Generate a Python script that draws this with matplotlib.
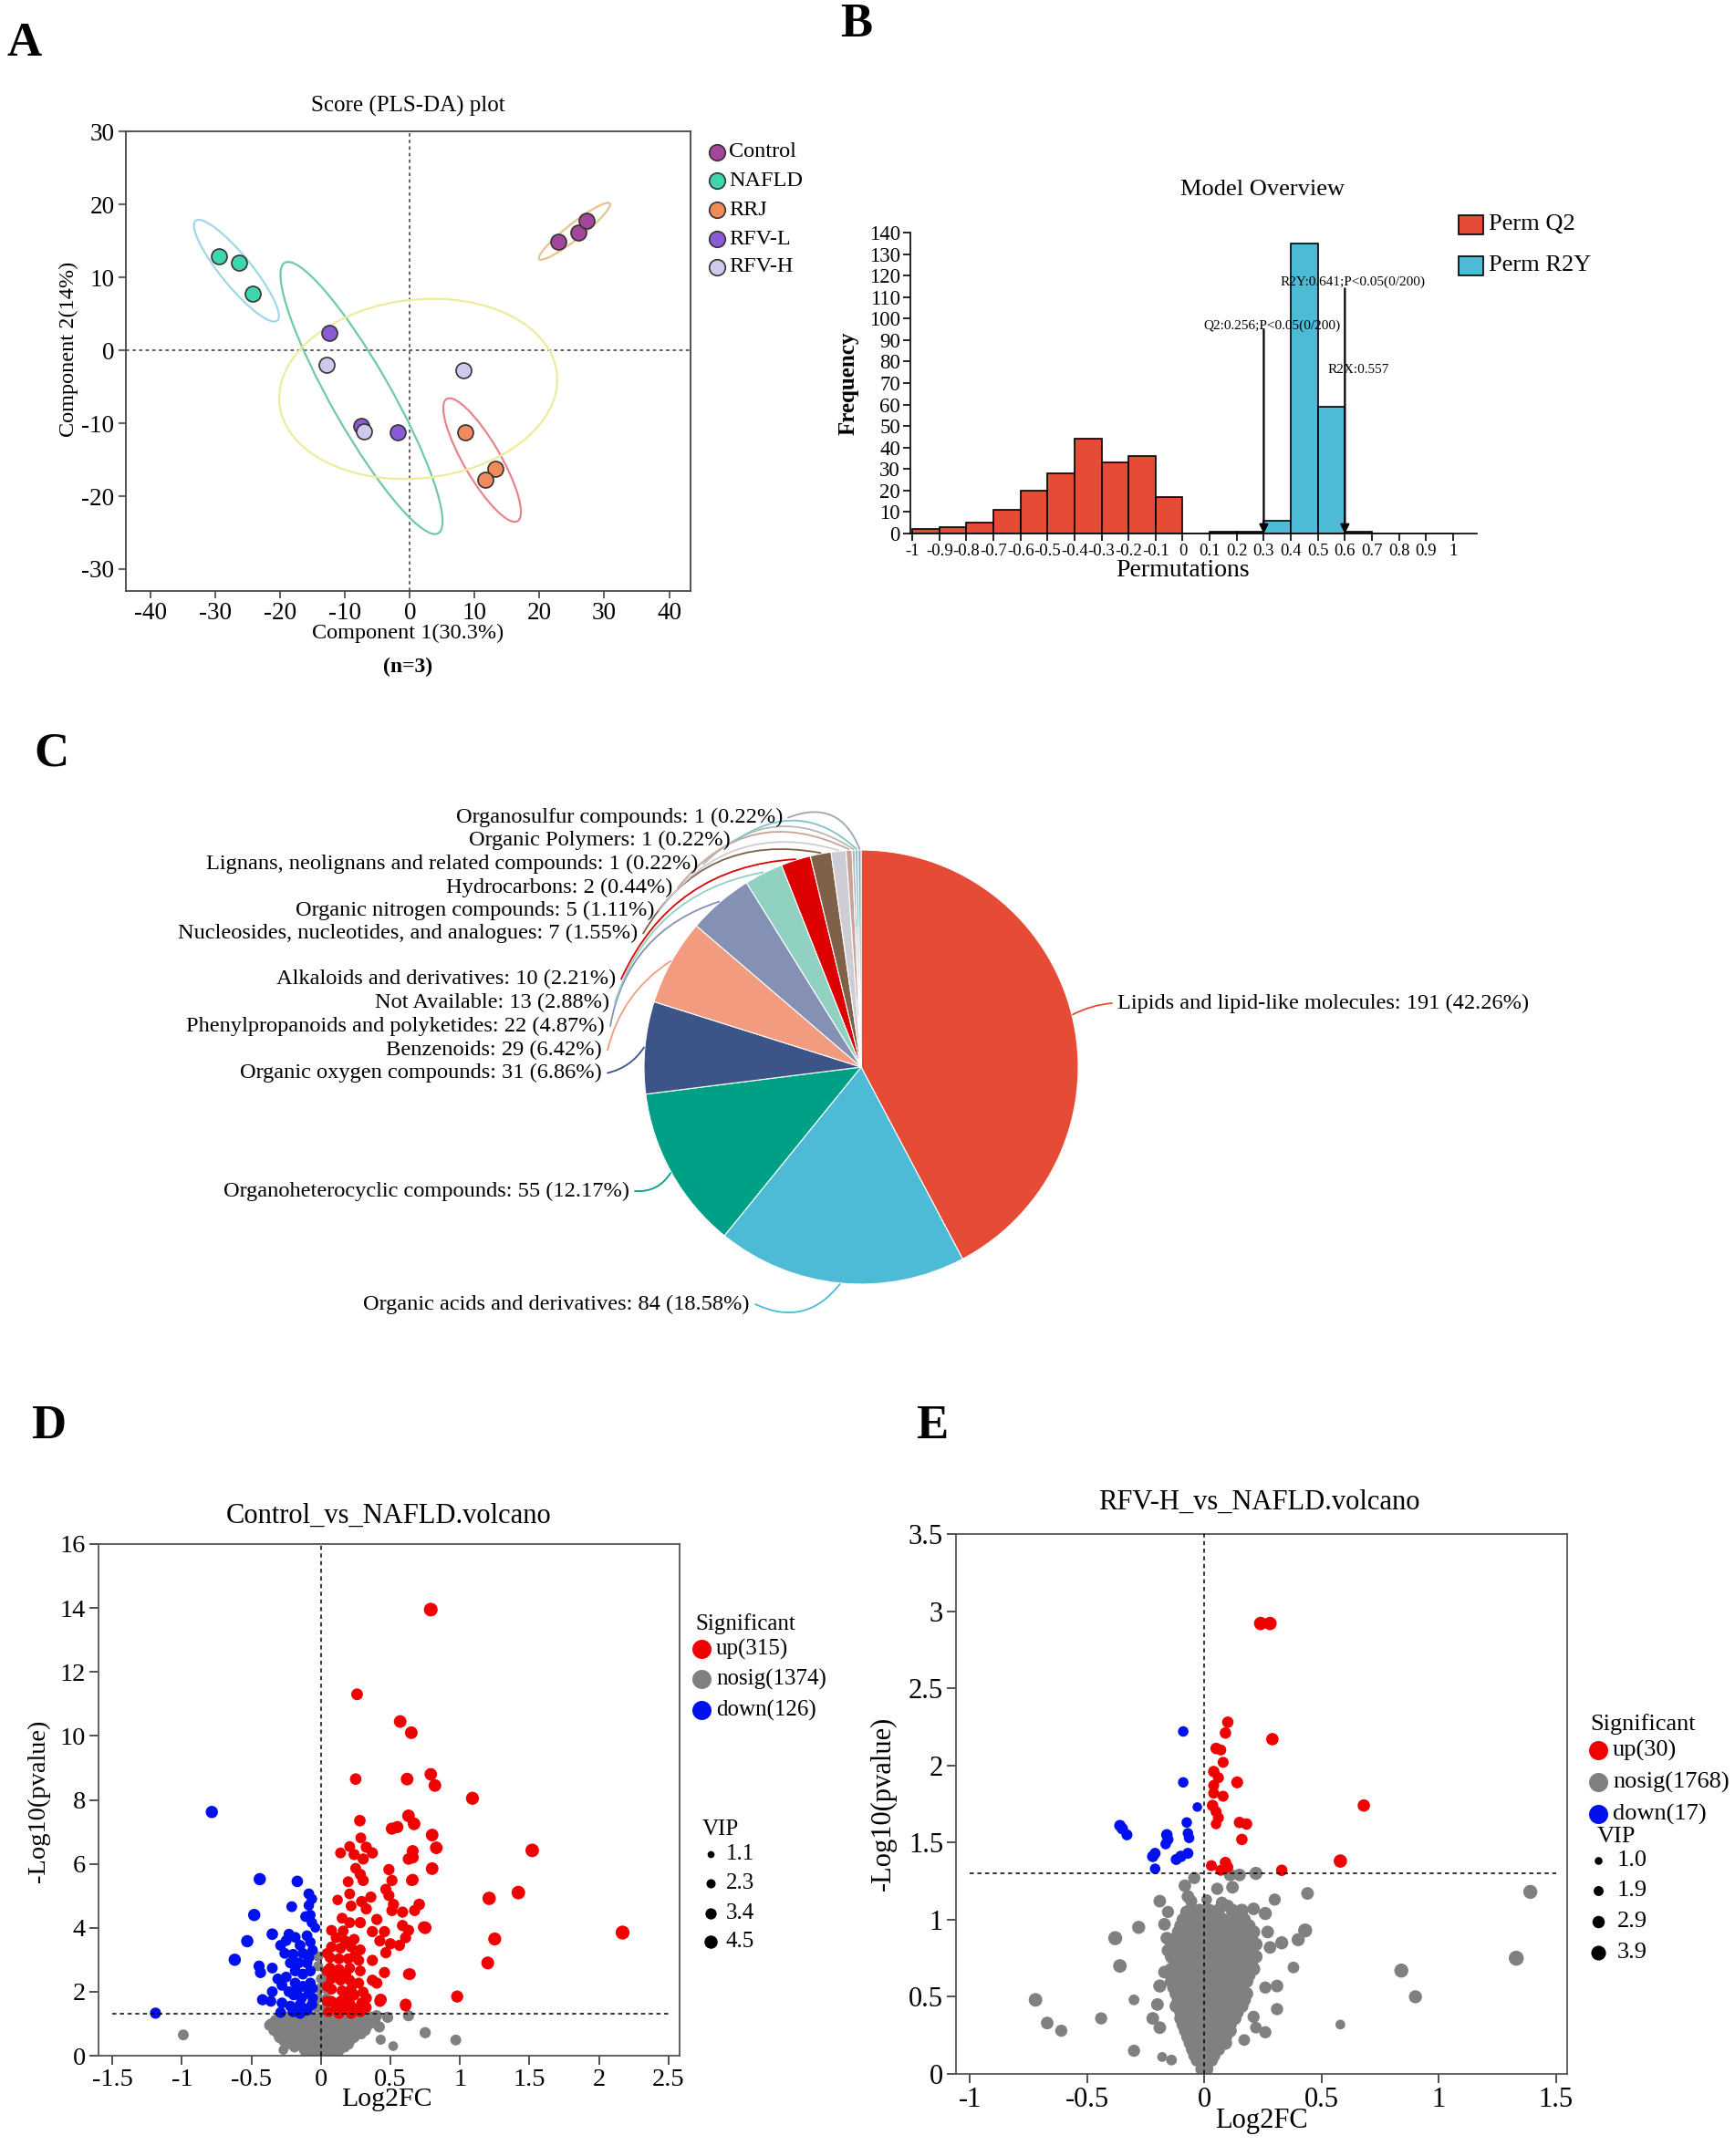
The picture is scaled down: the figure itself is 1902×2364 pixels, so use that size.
import numpy as np
import matplotlib
matplotlib.use('Agg')
import matplotlib.pyplot as plt
from matplotlib.patches import Ellipse, Rectangle

plt.rcParams['font.family'] = ['Liberation Serif', 'DejaVu Serif']
plt.rcParams['axes.unicode_minus'] = False

W, H = 1902, 2364

# ---------------- A: PLS-DA score plot ----------------
groups = ['Control', 'NAFLD', 'RRJ', 'RFV-L', 'RFV-H']
group_colors = ['#a3479b', '#3fd6ad', '#f28b5b', '#8b5bd6', '#cfc9ec']
score_x = [[22.96, 25.96, 27.3], [-29.4, -26.35, -24.3], [8.6, 13.2, 11.7],
           [-12.4, -7.5, -1.8], [-12.9, -7.1, 8.2]]
score_y = [[14.9, 16.1, 17.8], [12.9, 12.0, 7.8], [-11.2, -16.2, -17.7],
           [2.35, -10.4, -11.2], [-2.0, -11.1, -2.7]]
# confidence ellipses (centre, axes, angle)
ell_cx = [25.4, -26.75, 11.15, -7.45, 1.3]
ell_cy = [16.3, 10.9, -15.05, -6.55, -5.3]
ell_w = [13.3, 18.6, 20.0, 44.0, 43.0]
ell_h = [2.2, 4.5, 5.5, 9.0, 24.5]
ell_ang = [34.8, -47, -56.4, -57.2, 5]
ell_colors = ['#e6c48a', '#9fd8e6', '#e8848c', '#6fcaa8', '#eeeb9c']

# ---------------- B: permutation test ----------------
q2_left = [-1.0, -0.9, -0.8, -0.7, -0.6, -0.5, -0.4, -0.3, -0.2, -0.1, 0.0, 0.1, 0.2]
q2_freq = [2, 3, 5, 11, 20, 28, 44, 33, 36, 17, 0, 1, 1]
r2y_left = [0.3, 0.4, 0.5, 0.6, 0.7, 0.8, 0.9]
r2y_freq = [6, 135, 59, 1, 0, 0, 0]
perm_ticks = [-1, -0.9, -0.8, -0.7, -0.6, -0.5, -0.4, -0.3, -0.2, -0.1, 0,
              0.1, 0.2, 0.3, 0.4, 0.5, 0.6, 0.7, 0.8, 0.9, 1]

# ---------------- C: compound classes ----------------
class_names = ['Lipids and lipid-like molecules', 'Organic acids and derivatives',
               'Organoheterocyclic compounds', 'Organic oxygen compounds', 'Benzenoids',
               'Phenylpropanoids and polyketides', 'Not Available', 'Alkaloids and derivatives',
               'Nucleosides, nucleotides, and analogues', 'Organic nitrogen compounds',
               'Hydrocarbons', 'Lignans, neolignans and related compounds',
               'Organic Polymers', 'Organosulfur compounds']
class_counts = [191, 84, 55, 31, 29, 22, 13, 10, 7, 5, 2, 1, 1, 1]
class_colors = ['#E64B35', '#4DBBD5', '#00A087', '#3C5488', '#F39B7F', '#8491B4',
                '#91D1C2', '#DC0000', '#7E6148', '#cdcdd3', '#c9a39a', '#b7b7b7',
                '#7fc4c9', '#9aa6b2']

# ---------------- D: Control vs NAFLD volcano (x, y, vip) ----------------
d_up = [(0.79, 13.95, 4.4), (0.26, 11.3, 3.3), (0.57, 10.45, 3.8), (0.65, 10.1, 3.8),
        (0.25, 8.65, 3.2), (0.62, 8.65, 3.8), (0.79, 8.8, 3.7), (0.82, 8.45, 3.8),
        (1.09, 8.05, 4.0), (0.63, 7.5, 3.8), (0.67, 7.25, 3.8), (0.51, 7.1, 3.5),
        (0.55, 7.15, 3.5), (0.28, 7.35, 3.2), (0.80, 6.9, 3.8), (0.83, 6.5, 3.8),
        (1.52, 6.42, 4.3), (1.42, 5.1, 4.3), (1.21, 4.92, 4.2), (2.17, 3.85, 4.5),
        (1.25, 3.65, 4.0), (1.20, 2.9, 3.9), (0.98, 1.85, 3.5), (0.75, 4.0, 3.8),
        (0.64, 2.55, 3.3), (0.61, 1.6, 3.3), (0.43, 1.75, 3.5), (0.80, 5.85, 3.8),
        (0.66, 6.2, 3.5), (0.66, 5.5, 3.4), (0.66, 6.4, 3.4),
        (0.287, 6.81, 2.8), (0.207, 6.54, 2.8), (0.141, 6.34, 2.8), (0.239, 6.29, 3.0),
        (0.326, 6.52, 3.0), (0.370, 6.34, 3.0), (0.304, 6.15, 3.0), (0.630, 6.15, 3.2),
        (0.489, 5.82, 3.0), (0.25, 5.86, 2.8), (0.283, 5.67, 3.0), (0.304, 5.48, 3.0),
        (0.511, 5.48, 3.0), (0.652, 5.48, 3.0), (0.196, 5.44, 2.8), (0.467, 5.20, 3.0),
        (0.207, 5.06, 2.8), (0.489, 5.01, 3.0), (0.293, 4.82, 3.0), (0.359, 4.96, 3.0),
        (0.120, 4.87, 2.6), (0.522, 4.73, 3.0), (0.707, 4.73, 3.2), (0.674, 4.54, 3.0),
        (0.587, 4.49, 3.0), (0.511, 4.54, 3.0), (0.326, 4.59, 3.0), (0.217, 4.68, 2.8),
        (0.152, 4.30, 2.8), (0.207, 4.16, 2.8), (0.283, 4.16, 3.0), (0.402, 4.26, 3.0),
        (0.587, 4.07, 3.0), (0.739, 4.02, 3.2), (0.076, 3.92, 2.8), (0.370, 3.88, 3.0),
        (0.457, 3.88, 3.0), (0.630, 3.92, 3.0), (0.109, 3.69, 2.8), (0.174, 3.59, 2.8),
        (0.239, 3.64, 2.8), (0.424, 3.59, 3.0), (0.5, 3.50, 3.0), (0.565, 3.45, 3.0),
        (0.609, 3.69, 3.0), (0.076, 3.40, 2.8), (0.141, 3.36, 2.8), (0.217, 3.40, 2.8),
        (0.283, 3.31, 2.8), (0.467, 3.22, 3.0), (0.065, 3.07, 2.8), (0.130, 3.03, 2.8),
        (0.196, 3.03, 2.8), (0.272, 2.98, 2.8), (0.370, 2.98, 3.0), (0.065, 2.74, 2.8),
        (0.130, 2.70, 2.8), (0.207, 2.74, 2.8), (0.283, 2.65, 2.8), (0.457, 2.60, 3.0),
        (0.630, 2.55, 3.0), (0.076, 2.41, 2.8), (0.141, 2.36, 2.8), (0.207, 2.36, 2.8),
        (0.272, 2.27, 2.8), (0.370, 2.36, 3.0), (0.402, 2.27, 3.0), (0.076, 2.08, 2.8),
        (0.152, 2.03, 2.8), (0.217, 2.08, 2.8), (0.304, 1.99, 2.8), (0.326, 1.80, 3.0),
        (0.076, 1.70, 2.8), (0.141, 1.70, 2.8), (0.207, 1.65, 2.8), (0.293, 1.65, 2.8),
        (0.424, 1.70, 3.0), (0.609, 1.56, 3.0), (0.109, 1.51, 2.8), (0.174, 1.47, 2.8),
        (0.25, 1.47, 2.8), (0.326, 1.51, 2.8), (0.043, 3.2, 2.6), (0.043, 2.65, 2.6),
        (0.043, 2.17, 2.6), (0.043, 1.7, 2.6), (0.054, 1.37, 2.6), (0.13, 1.32, 2.8),
        (0.217, 1.32, 2.8), (0.283, 1.37, 2.8), (0.17, 1.9, 2.8), (0.24, 1.9, 2.8),
        (0.10, 2.5, 2.8), (0.18, 2.55, 2.8), (0.24, 3.1, 2.8), (0.16, 3.9, 2.8)]
d_down = [(-0.785, 7.62, 3.6), (-0.44, 5.52, 3.6), (-0.17, 5.45, 3.2), (-0.48, 4.4, 3.6),
          (-0.53, 3.58, 3.6), (-0.62, 3.0, 3.6), (-1.19, 1.33, 3.0), (-0.35, 3.8, 3.2),
          (-0.087, 5.06, 2.8), (-0.065, 4.9, 2.6), (-0.21, 4.66, 2.8), (-0.087, 4.7, 2.6),
          (-0.11, 4.35, 2.8), (-0.076, 4.4, 2.6), (-0.065, 4.16, 2.6), (-0.04, 4.0, 2.2),
          (-0.23, 3.8, 2.8), (-0.185, 3.7, 2.8), (-0.25, 3.6, 2.8), (-0.10, 3.75, 2.8),
          (-0.076, 3.55, 2.6), (-0.29, 3.45, 2.8), (-0.26, 3.2, 2.8), (-0.20, 3.17, 2.8),
          (-0.13, 3.2, 2.8), (-0.087, 3.07, 2.8), (-0.445, 2.8, 3.0), (-0.435, 2.6, 3.0),
          (-0.35, 2.74, 2.8), (-0.25, 2.46, 2.8), (-0.185, 2.65, 2.8), (-0.13, 2.55, 2.8),
          (-0.076, 2.65, 2.8), (-0.35, 2.0, 2.8), (-0.28, 2.2, 2.8), (-0.185, 2.27, 2.8),
          (-0.13, 2.17, 2.8), (-0.076, 2.27, 2.8), (-0.36, 1.7, 2.8), (-0.28, 1.65, 2.8),
          (-0.196, 1.9, 2.8), (-0.14, 1.8, 2.8), (-0.087, 1.94, 2.8), (-0.29, 1.35, 2.8),
          (-0.2, 1.37, 2.8), (-0.15, 1.32, 2.8), (-0.1, 1.42, 2.8), (-0.065, 1.6, 2.8),
          (-0.15, 1.6, 2.8), (-0.12, 1.47, 2.8), (-0.22, 1.55, 2.8), (-0.1, 2.9, 2.8),
          (-0.16, 2.9, 2.8), (-0.22, 2.9, 2.8), (-0.06, 3.3, 2.6), (-0.15, 3.45, 2.8),
          (-0.06, 1.8, 2.6), (-0.06, 2.1, 2.6), (-0.17, 2.05, 2.8), (-0.23, 2.0, 2.8),
          (-0.42, 1.75, 3.0), (-0.31, 2.4, 2.8)]
d_nosig = [(-0.99, 0.65, 2.8), (0.75, 0.72, 3.0), (0.97, 0.49, 2.8), (0.63, 1.25, 3.0),
           (0.48, 1.2, 3.0), (0.42, 0.9, 3.0), (0.43, 0.5, 2.4), (0.52, 0.3, 2.2),
           (-0.27, 0.18, 2.2), (0.13, 0.12, 2.2), (0.40, 1.25, 3.0), (-0.37, 0.95, 2.8),
           (-0.03, 1.5, 2.4), (0.03, 1.5, 2.4), (-0.02, 1.8, 2.4), (0.04, 1.8, 2.4),
           (-0.01, 2.1, 2.4), (0.03, 2.1, 2.4), (0.0, 2.4, 2.4), (0.04, 2.6, 2.4),
           (-0.02, 2.8, 2.4), (-0.02, 3.1, 2.4), (0.05, 2.3, 2.4)]
# dense part of the grey cloud, row by row: (y, x positions)
d_nosig_rows = [(1.22, [-0.30, -0.24, -0.18, -0.12, -0.06, 0.0, 0.06, 0.12, 0.18, 0.24, 0.30, 0.36]),
                (1.11, [-0.33, -0.27, -0.21, -0.15, -0.09, -0.03, 0.03, 0.09, 0.15, 0.21, 0.27, 0.33, 0.39]),
                (1.0, [-0.36, -0.30, -0.24, -0.18, -0.12, -0.06, 0.0, 0.06, 0.12, 0.18, 0.24, 0.30, 0.36]),
                (0.89, [-0.33, -0.27, -0.21, -0.15, -0.09, -0.03, 0.03, 0.09, 0.15, 0.21, 0.27, 0.33]),
                (0.78, [-0.34, -0.28, -0.22, -0.16, -0.10, -0.04, 0.02, 0.08, 0.14, 0.20, 0.26, 0.32]),
                (0.67, [-0.31, -0.25, -0.19, -0.13, -0.07, -0.01, 0.05, 0.11, 0.17, 0.23, 0.29]),
                (0.56, [-0.30, -0.24, -0.18, -0.12, -0.06, 0.0, 0.06, 0.12, 0.18, 0.24]),
                (0.46, [-0.27, -0.21, -0.15, -0.09, -0.03, 0.03, 0.09, 0.15, 0.21]),
                (0.35, [-0.22, -0.16, -0.10, -0.04, 0.02, 0.08, 0.14, 0.20]),
                (0.26, [-0.19, -0.13, -0.07, -0.01, 0.05, 0.11, 0.17]),
                (0.16, [-0.12, -0.06, 0.0, 0.06, 0.12]),
                (0.09, [-0.08, -0.02, 0.04, 0.09]),
                (0.04, [-0.03, 0.03])]
d_counts = {'up': 315, 'nosig': 1374, 'down': 126}
d_vip_legend = [1.1, 2.3, 3.4, 4.5]

# ---------------- E: RFV-H vs NAFLD volcano (x, y, vip) ----------------
e_up = [(0.24, 2.92, 3.1), (0.28, 2.92, 3.1), (0.10, 2.28, 2.3), (0.09, 2.21, 2.3),
        (0.29, 2.17, 2.7), (0.05, 2.11, 2.3), (0.07, 2.10, 2.1), (0.08, 2.02, 2.1),
        (0.04, 1.96, 2.3), (0.06, 1.92, 2.1), (0.04, 1.87, 2.1), (0.14, 1.89, 2.5),
        (0.08, 1.80, 2.1), (0.035, 1.74, 2.3), (0.05, 1.70, 2.1), (0.05, 1.62, 1.9),
        (0.15, 1.63, 2.3), (0.18, 1.62, 2.3), (0.16, 1.52, 2.3), (0.68, 1.74, 2.7),
        (0.58, 1.38, 3.1), (0.33, 1.32, 2.3), (0.03, 1.35, 2.1), (0.09, 1.37, 2.3),
        (0.07, 1.32, 2.1), (0.04, 1.82, 2.1), (0.06, 1.66, 2.1), (0.10, 1.34, 2.1)]
e_down = [(-0.09, 2.22, 1.9), (-0.09, 1.89, 1.9), (-0.03, 1.73, 1.5), (-0.075, 1.63, 1.9),
          (-0.07, 1.56, 1.9), (-0.065, 1.53, 1.9), (-0.36, 1.61, 2.3), (-0.35, 1.59, 2.3),
          (-0.33, 1.55, 2.1), (-0.16, 1.55, 2.3), (-0.155, 1.52, 2.1), (-0.165, 1.49, 1.9),
          (-0.07, 1.43, 2.1), (-0.10, 1.41, 2.3), (-0.12, 1.39, 2.1), (-0.22, 1.41, 2.3),
          (-0.21, 1.43, 2.1), (-0.21, 1.33, 1.9)]
e_nosig = [(1.39, 1.18, 3.4), (1.33, 0.75, 3.8), (0.84, 0.67, 3.4), (0.90, 0.50, 3.0),
           (0.58, 0.32, 1.6), (-0.38, 0.88, 3.4), (-0.36, 0.70, 3.2), (-0.28, 0.95, 3.0),
           (-0.72, 0.48, 3.2), (-0.67, 0.33, 2.8), (-0.61, 0.28, 2.6), (-0.44, 0.36, 2.6),
           (-0.30, 0.48, 2.0), (-0.30, 0.15, 2.6), (-0.18, 0.11, 1.6), (-0.14, 0.09, 2.0),
           (0.43, 0.93, 3.4), (0.44, 1.17, 2.8), (0.40, 0.87, 3.0), (0.33, 0.85, 3.0),
           (0.38, 0.69, 2.4), (0.31, 0.57, 2.8), (0.31, 0.42, 2.6), (0.26, 0.27, 2.6),
           (0.22, 0.30, 2.4), (0.21, 0.37, 2.6), (0.22, 1.30, 3.0), (0.11, 1.29, 2.8),
           (0.30, 1.13, 2.6), (0.26, 1.04, 3.0), (0.21, 1.07, 2.8), (0.27, 0.92, 2.8),
           (0.28, 0.82, 2.8), (0.26, 0.56, 2.6), (0.17, 0.22, 2.4), (0.15, 1.29, 2.8),
           (0.12, 1.21, 2.8), (0.055, 1.20, 2.6), (0.075, 1.11, 2.6), (0.10, 1.09, 2.6),
           (-0.043, 1.27, 2.6), (-0.083, 1.22, 2.8), (-0.07, 1.15, 2.8), (-0.056, 1.12, 2.6),
           (-0.076, 1.05, 2.8), (-0.05, 1.04, 2.6), (0.01, 1.13, 2.0), (-0.19, 1.12, 2.8),
           (-0.155, 1.05, 2.6), (-0.17, 0.97, 2.8), (-0.16, 0.88, 2.8), (-0.155, 0.80, 2.8),
           (-0.17, 0.66, 2.8), (-0.19, 0.57, 3.0), (-0.20, 0.45, 2.8), (-0.22, 0.36, 2.8),
           (-0.19, 0.30, 2.8)]
e_nosig_rows = [(1.06, [-0.06, -0.02, 0.02, 0.06, 0.12, 0.16]),
                (1.00, [-0.09, -0.05, -0.01, 0.04, 0.08, 0.13, 0.17]),
                (0.96, [-0.10, -0.06, -0.02, 0.03, 0.07, 0.11, 0.15, 0.19]),
                (0.92, [-0.11, -0.07, -0.03, 0.01, 0.05, 0.09, 0.13, 0.17, 0.21]),
                (0.88, [-0.12, -0.08, -0.04, 0.0, 0.04, 0.08, 0.12, 0.16, 0.20]),
                (0.84, [-0.14, -0.10, -0.06, -0.02, 0.02, 0.06, 0.10, 0.14, 0.18, 0.22]),
                (0.80, [-0.13, -0.09, -0.05, -0.01, 0.03, 0.07, 0.11, 0.15, 0.19]),
                (0.76, [-0.14, -0.10, -0.06, -0.02, 0.02, 0.06, 0.10, 0.14, 0.18, 0.22]),
                (0.72, [-0.12, -0.08, -0.04, 0.0, 0.04, 0.08, 0.12, 0.16, 0.20]),
                (0.68, [-0.14, -0.10, -0.06, -0.02, 0.02, 0.06, 0.10, 0.14, 0.18, 0.21]),
                (0.64, [-0.13, -0.09, -0.05, -0.01, 0.03, 0.07, 0.11, 0.15, 0.19]),
                (0.60, [-0.14, -0.10, -0.06, -0.02, 0.02, 0.06, 0.10, 0.14, 0.18]),
                (0.56, [-0.13, -0.08, -0.04, 0.0, 0.04, 0.08, 0.12, 0.16]),
                (0.52, [-0.12, -0.09, -0.05, -0.01, 0.03, 0.07, 0.11, 0.15, 0.18]),
                (0.48, [-0.11, -0.07, -0.03, 0.01, 0.05, 0.09, 0.13, 0.17]),
                (0.44, [-0.12, -0.08, -0.04, 0.0, 0.04, 0.08, 0.12, 0.16]),
                (0.40, [-0.10, -0.06, -0.02, 0.02, 0.06, 0.10, 0.14]),
                (0.36, [-0.10, -0.07, -0.03, 0.01, 0.05, 0.09, 0.13]),
                (0.32, [-0.09, -0.05, -0.01, 0.03, 0.07, 0.11]),
                (0.28, [-0.08, -0.04, 0.0, 0.04, 0.08, 0.11]),
                (0.24, [-0.07, -0.03, 0.01, 0.05, 0.09]),
                (0.20, [-0.06, -0.02, 0.02, 0.06, 0.09]),
                (0.16, [-0.05, -0.01, 0.03, 0.06]),
                (0.12, [-0.04, 0.0, 0.04]),
                (0.09, [-0.03, 0.0, 0.03]),
                (0.03, [-0.01, 0.01])]
e_counts = {'up': 30, 'nosig': 1768, 'down': 17}
e_vip_legend = [1.0, 1.9, 2.9, 3.9]

RED, BLUE, GREY = '#f00000', '#0010ee', '#808080'

# ---------------- figure ----------------
fig = plt.figure(figsize=(W / 100, H / 100), dpi=100)


def px_axes(left, top, right, bottom):
    return fig.add_axes([left / W, 1 - bottom / H, (right - left) / W, (bottom - top) / H])


def pts(lst):
    a = np.array(lst, dtype=float)
    return a[:, 0], a[:, 1], a[:, 2]


def rows_to_pts(rows, vip):
    xs, ys = [], []
    for y, xrow in rows:
        xs += xrow
        ys += [y] * len(xrow)
    return np.array(xs), np.array(ys), np.full(len(xs), vip)


def vsize(v, base, k):
    return ((base + k * np.asarray(v)) * 0.72) ** 2


D_BASE, D_K = 6.3, 2.0
E_BASE, E_K = 6.6, 2.6

# ---- A ----
axA = px_axes(138, 144, 757, 648)
for i in range(len(groups)):
    axA.add_patch(Ellipse((ell_cx[i], ell_cy[i]), ell_w[i], ell_h[i], angle=ell_ang[i],
                          fill=False, ec=ell_colors[i], lw=1.6, zorder=2))
for i in range(len(groups)):
    axA.scatter(score_x[i], score_y[i], s=150, color=group_colors[i],
                edgecolors='#333333', linewidths=1.2, zorder=4)
axA.axvline(0, color='#555555', ls=(0, (2, 2)), lw=1.3, zorder=1)
axA.axhline(0, color='#555555', ls=(0, (2, 2)), lw=1.3, zorder=1)
axA.set_xlim(-43.8, 43.3)
axA.set_ylim(-33, 30)
axA.set_xticks(range(-40, 41, 10))
axA.set_yticks(range(-30, 31, 10))
axA.tick_params(direction='out', length=6, width=1.2, labelsize=19.5, color='#444444', pad=3)
for sp in axA.spines.values():
    sp.set_color('#444444')
    sp.set_linewidth(1.3)

# ---- B ----
axB = px_axes(998, 255, 1619, 585)
axB.bar(q2_left, q2_freq, width=0.1, align='edge', color='#e64b35', edgecolor='black', lw=1.2)
axB.bar(r2y_left, r2y_freq, width=0.1, align='edge', color='#4dbbd5', edgecolor='black', lw=1.2)
axB.set_xlim(-1.007, 1.088)
axB.set_ylim(0, 140)
axB.set_xticks(perm_ticks)
axB.set_xticklabels(['%g' % t for t in perm_ticks], fontsize=13.5)
axB.set_yticks(range(0, 141, 10))
axB.tick_params(axis='y', labelsize=16.5)
axB.tick_params(direction='out', length=6, width=1.2, pad=2)
axB.spines['top'].set_visible(False)
axB.spines['right'].set_visible(False)
for sp in ['left', 'bottom']:
    axB.spines[sp].set_linewidth(1.2)
axB.annotate('', xy=(0.3, 0), xytext=(0.3, 95),
             arrowprops=dict(arrowstyle='-|>', color='black', lw=1.6, mutation_scale=14,
                             shrinkA=0, shrinkB=0))
axB.annotate('', xy=(0.6, 0), xytext=(0.6, 114),
             arrowprops=dict(arrowstyle='-|>', color='black', lw=1.6, mutation_scale=14,
                             shrinkA=0, shrinkB=0))
axB.text(0.076, 96.5, 'Q2:0.256;P<0.05(0/200)', fontsize=11, va='center', ha='left')
axB.text(0.36, 117, 'R2Y:0.641;P<0.05(0/200)', fontsize=11, va='center', ha='left')
axB.text(0.535, 76, 'R2X:0.557', fontsize=11, va='center', ha='left')

# ---- C ----
axC = px_axes(944 - 238, 1170 - 238, 944 + 238, 1170 + 238)
axC.pie(class_counts, colors=class_colors, startangle=90, counterclock=False, radius=1,
        wedgeprops=dict(edgecolor='white', linewidth=0.8))
axC.set_xlim(-1, 1)
axC.set_ylim(-1, 1)

# ---- D ----
axD = px_axes(108, 1693, 745, 2254)
gx, gy, gv = rows_to_pts(d_nosig_rows, 2.5)
axD.scatter(gx, gy, s=vsize(gv, D_BASE, D_K), color=GREY, lw=0, zorder=2)
gx, gy, gv = pts(d_nosig)
axD.scatter(gx, gy, s=vsize(gv, D_BASE, D_K), color=GREY, lw=0, zorder=2)
bx, by, bv = pts(d_down)
axD.scatter(bx, by, s=vsize(bv, D_BASE, D_K), color=BLUE, lw=0, zorder=3)
rx, ry, rv = pts(d_up)
axD.scatter(rx, ry, s=vsize(rv, D_BASE, D_K), color=RED, lw=0, zorder=3)
axD.plot([0, 0], [0, 16], color='black', lw=1.1, dashes=(3, 2.5), zorder=5)
axD.plot([-1.5, 2.5], [1.3, 1.3], color='black', lw=1.1, dashes=(3, 2.5), zorder=5)
axD.set_xlim(-1.6, 2.58)
axD.set_ylim(0, 16)
dxt = [-1.5, -1, -0.5, 0, 0.5, 1, 1.5, 2, 2.5]
axD.set_xticks(dxt)
axD.set_xticklabels(['%g' % t for t in dxt])
axD.set_yticks(range(0, 17, 2))

# ---- E ----
axE = px_axes(1048, 1682, 1718, 2274)
gx, gy, gv = rows_to_pts(e_nosig_rows, 3.1)
axE.scatter(gx, gy, s=vsize(gv, E_BASE, E_K), color=GREY, lw=0, zorder=2)
gx, gy, gv = pts(e_nosig)
axE.scatter(gx, gy, s=vsize(gv, E_BASE, E_K), color=GREY, lw=0, zorder=2)
bx, by, bv = pts(e_down)
axE.scatter(bx, by, s=vsize(bv, E_BASE, E_K), color=BLUE, lw=0, zorder=3)
rx, ry, rv = pts(e_up)
axE.scatter(rx, ry, s=vsize(rv, E_BASE, E_K), color=RED, lw=0, zorder=3)
axE.plot([0, 0], [0, 3.5], color='black', lw=1.1, dashes=(3, 2.5), zorder=5)
axE.plot([-1.0, 1.5], [1.3, 1.3], color='black', lw=1.1, dashes=(3, 2.5), zorder=5)
axE.set_xlim(-1.059, 1.547)
axE.set_ylim(0, 3.5)
ext = [-1, -0.5, 0, 0.5, 1, 1.5]
axE.set_xticks(ext)
axE.set_xticklabels(['%g' % t for t in ext])
eyt = [0, 0.5, 1, 1.5, 2, 2.5, 3, 3.5]
axE.set_yticks(eyt)
axE.set_yticklabels(['%g' % t for t in eyt])

for ax, ls in [(axD, 20.5), (axE, 22)]:
    ax.tick_params(direction='out', length=7, width=1.2, labelsize=ls, color='#333333', pad=3)
    for sp in ax.spines.values():
        sp.set_color('#555555')
        sp.set_linewidth(1.3)

# ---------------- text / legends on a pixel canvas ----------------
cv = fig.add_axes([0, 0, 1, 1])
cv.set_xlim(0, W)
cv.set_ylim(H, 0)
cv.axis('off')

# panel letters
for lab, x, y in [('A', 27, 48), ('B', 939, 27), ('C', 56, 826), ('D', 53, 1564), ('E', 1022, 1564)]:
    cv.text(x, y, lab, fontsize=38, fontweight='bold', ha='center', va='center')

# A texts
cv.text(447, 116, 'Score (PLS-DA) plot', fontsize=18, ha='center', va='center')
cv.text(447, 694, 'Component 1(30.3%)', fontsize=17.5, ha='center', va='center')
cv.text(447, 731, '(n=3)', fontsize=17, fontweight='bold', ha='center', va='center')
cv.text(75, 383, 'Component 2(14%)', fontsize=17.5, rotation=90, ha='center', va='center')
for i, y in enumerate([167, 198, 230, 262, 293]):
    cv.scatter(786, y, s=160, color=group_colors[i], edgecolors='#333333', linewidths=1.2)
    cv.text(799, y, groups[i], fontsize=17.5, ha='left', va='center')

# B texts
cv.text(1384, 208, 'Model Overview', fontsize=19, ha='center', va='center')
cv.text(1297, 626, 'Permutations', fontsize=20, ha='center', va='center')
cv.text(930, 420, 'Frequency', fontsize=18, fontweight='bold', rotation=90, ha='center', va='center')
for y, c, lab in [(246, '#e64b35', 'Perm Q2'), (291, '#4dbbd5', 'Perm R2Y')]:
    cv.add_patch(Rectangle((1599, y - 10.5), 27, 21, facecolor=c, edgecolor='black', lw=1.2))
    cv.text(1632, y, lab, fontsize=19, ha='left', va='center')

# C labels with leader lines
pie_label_px = [(1225, 1100, 'left'), (822, 1430, 'right'), (690, 1306, 'right'),
                (660, 1176.5, 'right'), (660, 1151.5, 'right'), (663, 1125, 'right'),
                (668, 1099.6, 'right'), (675, 1073.5, 'right'), (699, 1023.5, 'right'),
                (717, 998.5, 'right'), (737, 973.5, 'right'), (765, 947.7, 'right'),
                (801, 921.5, 'right'), (858, 896.5, 'right')]
pie_line_rad = [0.1, 0.4, 0.3, 0.2, -0.2, -0.3, -0.3, -0.3, -0.35, -0.35, -0.4, -0.4, -0.4, -0.5]
total = sum(class_counts)
cum = 0
for i, cnt in enumerate(class_counts):
    mid = (cum + cnt / 2) / total
    cum += cnt
    th = np.radians(90 - 360 * mid)
    ex, ey = 944 + 239 * np.cos(th), 1170 - 239 * np.sin(th)
    lx, ly, ha = pie_label_px[i]
    ax_ = lx + 6 if ha == 'right' else lx - 6
    cv.annotate('', xy=(ex, ey), xytext=(ax_, ly),
                arrowprops=dict(arrowstyle='-', color=class_colors[i], lw=1.3,
                                shrinkA=0, shrinkB=0,
                                connectionstyle='arc3,rad=%g' % pie_line_rad[i]))
    pct = 100 * cnt / total
    cv.text(lx, ly, '%s: %d (%.2f%%)' % (class_names[i], cnt, pct), fontsize=17.6,
            ha=ha, va='center')

# D / E texts and legends
cv.text(426, 1662, 'Control_vs_NAFLD.volcano', fontsize=22, ha='center', va='center')
cv.text(424, 2302, 'Log2FC', fontsize=21.5, ha='center', va='center')
cv.text(42, 1975, '-Log10(pvalue)', fontsize=20.5, rotation=90, ha='center', va='center')
cv.text(1380, 1647, 'RFV-H_vs_NAFLD.volcano', fontsize=22, ha='center', va='center')
cv.text(1383, 2325, 'Log2FC', fontsize=22, ha='center', va='center')
cv.text(968, 1977, '-Log10(pvalue)', fontsize=22, rotation=90, ha='center', va='center')


def volcano_legend(x0, y_title, y_rows, counts, x_dot, x_txt, y_vip, vip_rows, vips,
                   vx_dot, vx_txt, base, k, fs):
    cv.text(x0, y_title, 'Significant', fontsize=fs, ha='left', va='center')
    for (key, c), y in zip([('up', RED), ('nosig', GREY), ('down', BLUE)], y_rows):
        cv.scatter(x_dot, y, s=(21 * 0.72) ** 2, color=c, lw=0)
        cv.text(x_txt, y, '%s(%d)' % (key, counts[key]), fontsize=fs, ha='left', va='center')
    cv.text(x0 + 8, y_vip, 'VIP', fontsize=fs, ha='left', va='center')
    for v, y in zip(vips, vip_rows):
        cv.scatter(vx_dot, y, s=vsize(v, base, k), color='black', lw=0)
        cv.text(vx_txt, y, '%.1f' % v, fontsize=fs, ha='left', va='center')


# legend dots use the slightly smaller key scale seen in the reference
volcano_legend(762, 1781, [1808, 1841, 1875], d_counts, 769, 785, 2006,
               [2033, 2065, 2098, 2129], d_vip_legend, 779, 796, 5.5, 2.0, 18)
volcano_legend(1743, 1891, [1919, 1954, 1989], e_counts, 1752, 1768, 2014,
               [2040, 2073, 2107, 2141], e_vip_legend, 1752, 1773, 6.0, 2.6, 19)

fig.savefig('out.png', dpi=100)
